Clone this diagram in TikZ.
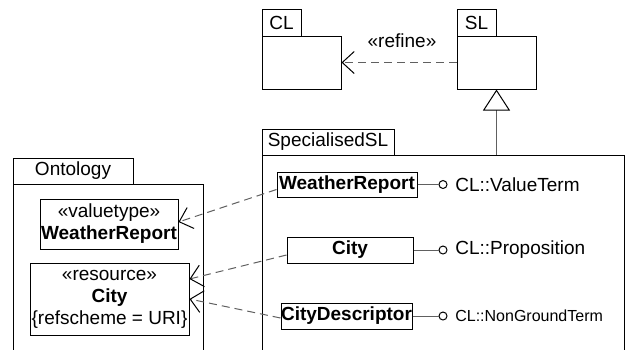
\documentclass[tikz,border=0pt]{standalone}
\usepackage{fontspec}
\setmainfont{Liberation Sans}
\usetikzlibrary{arrows.meta,positioning}

\definecolor{linegray}{RGB}{96,96,96}

\tikzset{every picture/.style={line width=1pt}}
\tikzset{
	every node/.style={font=\fontsize{19}{22}\selectfont},
	pkgtab/.style={draw, rectangle, inner sep=0pt, minimum height=27pt},
	pkgbody/.style={draw, rectangle, inner sep=0pt},
	classbox/.style={draw, rectangle, inner sep=0pt, align=center},
	lolli/.style={draw, circle, inner sep=0pt, minimum size=8pt},
	dep/.style={draw=linegray, dash pattern=on 8pt off 5pt, -{Straight Barb[color=black, length=12pt, width=22pt]}},
	gen/.style={draw=linegray, -{Triangle[open, color=black, fill=white, length=21pt, width=27pt]}}}

\begin{document}
\begin{tikzpicture}[x=1pt,y=1pt,yscale=-1,xscale=1]
	\useasboundingbox (0,0) rectangle (627,349);

	%Shape: Package CL
	\node [pkgtab, minimum width=39pt] (cltab) at (281.5,22.5) {CL};
	\node [pkgbody, minimum width=79pt, minimum height=53pt] (clbody) at (301.5,62.5) {};
	%Shape: Package SL
	\node [pkgtab, minimum width=39pt] (sltab) at (476.5,22.5) {SL};
	\node [pkgbody, minimum width=79pt, minimum height=53pt] (slbody) at (496.5,62.5) {};

	%Shape: Package SpecialisedSL
	\node [pkgtab, minimum width=132pt, minimum height=26pt] (spectab) at (328,142) {SpecialisedSL};
	\node [pkgbody, minimum width=362pt, minimum height=197pt] (specbody) at (443,253.5) {};
	%Shape: Package Ontology
	\node [pkgtab, minimum width=120pt, minimum height=26pt] (ontotab) at (73,171) {Ontology};
	\node [pkgbody, minimum width=190pt, minimum height=168pt] (ontobody) at (108,268) {};

	%Shape: Classes in Ontology
	\node [classbox, minimum width=138pt, minimum height=50pt] (valuetype) at (109,224) {«valuetype»\\\textbf{WeatherReport}};
	\node [classbox, minimum width=159pt, minimum height=72pt] (resource) at (109.5,299) {«resource»\\\textbf{City}\\\{refscheme = URI\}};

	%Shape: Classes in SpecialisedSL
	\node [classbox, minimum width=140pt, minimum height=25pt] (wr) at (347,184.5) {\textbf{WeatherReport}};
	\node [classbox, minimum width=126pt, minimum height=26pt] (city) at (350,250) {\textbf{City}};
	\node [classbox, minimum width=131pt, minimum height=26pt] (citydesc) at (346.5,316) {\textbf{CityDescriptor}};

	%Shape: Interfaces
	\node [lolli] (wrlolli) at (443,184.5) {};
	\node [lolli] (citylolli) at (443,250) {};
	\node [lolli] (desclolli) at (443,316) {};
	\node [right=4pt of wrlolli] (wrif) {CL::ValueTerm};
	\node [right=4pt of citylolli] (cityif) {CL::Proposition};
	\node [right=4pt of desclolli, font=\fontsize{16}{19}\selectfont] (descif) {CL::NonGroundTerm};
	\draw [linegray] (wr) -- (wrlolli);
	\draw [linegray] (city) -- (citylolli);
	\draw [linegray] (citydesc) -- (desclolli);

	%Straight Lines: refine and generalization
	\draw [dep] (slbody) -- (clbody);
	\draw [gen] (specbody.north -| slbody.south) -- (slbody.south);
	% Text Node
	\node (refine) at (402,41) {«refine»};

	%Straight Lines: dependencies (yshift runs downwards here)
	\draw [dep] ([yshift=5pt]wr.west) -- ([yshift=-2pt]valuetype.east);
	\draw [dep] ([yshift=5pt]city.west) -- ([yshift=-20pt]resource.east);
	\draw [dep] ([yshift=2pt]citydesc.west) -- (resource.east);

\end{tikzpicture}
\end{document}
